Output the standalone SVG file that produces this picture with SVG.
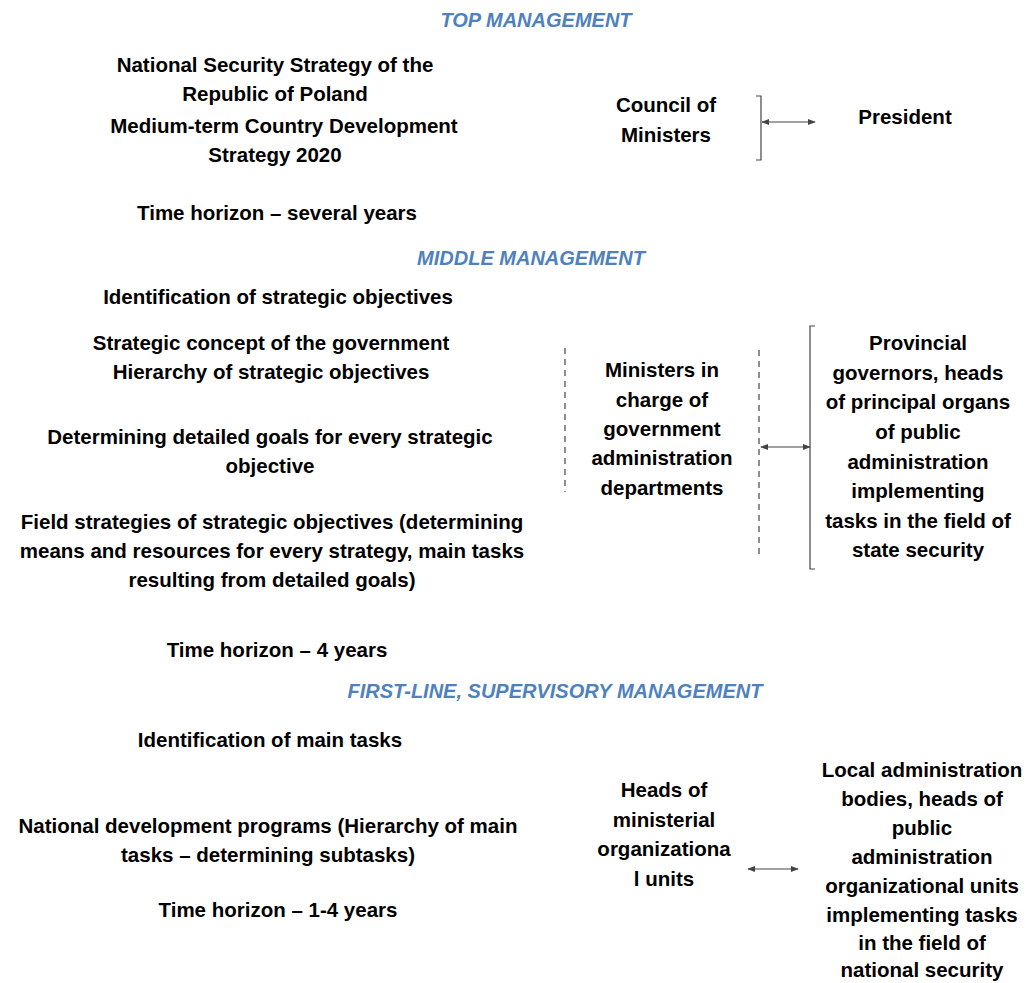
<svg xmlns="http://www.w3.org/2000/svg" width="1030" height="983" viewBox="0 0 1030 983">
<style>
text{font-family:"Liberation Sans",Arial,sans-serif;font-weight:bold;font-size:20.5px;fill:#000;text-anchor:middle}
.h{fill:#4f81bd;font-style:italic;font-size:20px}
.ln{stroke:#444;stroke-width:1.2;fill:none}
.ds{stroke:#444;stroke-width:1.2;fill:none;stroke-dasharray:6,5}
</style>
<defs>
<marker id="ah" viewBox="0 0 10 10" refX="9" refY="5" markerWidth="8" markerHeight="8" orient="auto-start-reverse" markerUnits="userSpaceOnUse"><path d="M0,1 L10,5 L0,9 z" fill="#444"/></marker>
</defs>
<rect width="1030" height="983" fill="#fff"/>
<g id="headings">
<text class="h" x="536" y="27">TOP MANAGEMENT</text>
<text class="h" x="531" y="265">MIDDLE MANAGEMENT</text>
<text class="h" x="555" y="698">FIRST-LINE, SUPERVISORY MANAGEMENT</text>
</g>
<g id="strategy-top">
<text x="275" y="72">National Security Strategy of the</text>
<text x="275" y="101">Republic of Poland</text>
<text x="284" y="133">Medium-term Country Development</text>
<text x="275" y="162">Strategy 2020</text>
<text x="277" y="220">Time horizon – several years</text>
</g>
<g id="council"><text x="666" y="112">Council of</text><text x="666" y="142">Ministers</text></g>
<g id="president"><text x="905" y="124">President</text></g>
<g id="strategy-middle">
<text x="278" y="304">Identification of strategic objectives</text>
<text x="271" y="350">Strategic concept of the government</text>
<text x="271" y="379">Hierarchy of strategic objectives</text>
<text x="270" y="444">Determining detailed goals for every strategic</text>
<text x="270" y="473">objective</text>
<text x="272" y="529">Field strategies of strategic objectives (determining</text>
<text x="272" y="558">means and resources for every strategy, main tasks</text>
<text x="272" y="587">resulting from detailed goals)</text>
<text x="277" y="657">Time horizon – 4 years</text>
</g>
<g id="ministers"><text x="662" y="377">Ministers in</text><text x="662" y="407">charge of</text><text x="662" y="436">government</text><text x="662" y="465">administration</text><text x="662" y="495">departments</text></g>
<g id="provincial"><text x="918" y="350">Provincial</text><text x="918" y="380">governors, heads</text><text x="918" y="409">of principal organs</text><text x="918" y="439">of public</text><text x="918" y="469">administration</text><text x="918" y="498">implementing</text><text x="918" y="528">tasks in the field of</text><text x="918" y="557">state security</text></g>
<g id="strategy-first">
<text x="270" y="747">Identification of main tasks</text>
<text x="268" y="833">National development programs (Hierarchy of main</text>
<text x="268" y="862">tasks – determining subtasks)</text>
<text x="278" y="917">Time horizon – 1-4 years</text>
</g>
<g id="heads"><text x="664" y="797">Heads of</text><text x="664" y="827">ministerial</text><text x="664" y="856">organizationa</text><text x="664" y="886">l units</text></g>
<g id="local"><text x="922" y="777">Local administration</text><text x="922" y="806">bodies, heads of</text><text x="922" y="835">public</text><text x="922" y="864">administration</text><text x="922" y="893">organizational units</text><text x="922" y="922">implementing tasks</text><text x="922" y="950">in the field of</text><text x="922" y="977">national security</text></g>
<g id="connectors">
<path class="ln" d="M756,96 H761 V160 H756"/>
<line class="ln" x1="762" y1="122" x2="815" y2="122" marker-start="url(#ah)" marker-end="url(#ah)"/>
<line class="ds" x1="565" y1="348" x2="565" y2="492"/>
<line class="ds" x1="759" y1="350" x2="759" y2="555"/>
<path class="ln" d="M815,326 H810 V569 H815"/>
<line class="ln" x1="761" y1="447" x2="810" y2="447" marker-start="url(#ah)" marker-end="url(#ah)"/>
<line class="ln" x1="748" y1="869" x2="798" y2="869" marker-start="url(#ah)" marker-end="url(#ah)"/>
</g>
</svg>
